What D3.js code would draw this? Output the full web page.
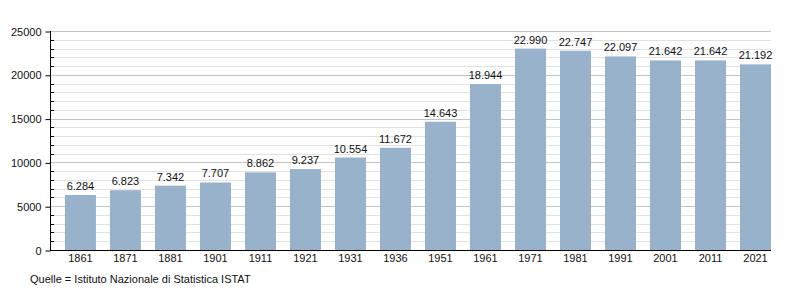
<!DOCTYPE html>
<meta charset="utf-8">
<style>
  body { margin: 0; background: #fff; }
  text { font-family: "Liberation Sans", Arial, sans-serif; }
</style>
<body>
<div id="chart"></div>
<script src="https://d3js.org/d3.v7.min.js"></script>
<script>

var years = ["1861", "1871", "1881", "1901", "1911", "1921", "1931", "1936",
             "1951", "1961", "1971", "1981", "1991", "2001", "2011", "2021"];
var population = [6284, 6823, 7342, 7707, 8862, 9237, 10554, 11672,
                  14643, 18944, 22990, 22747, 22097, 21642, 21642, 21192];
var yTicks = [0, 5000, 10000, 15000, 20000, 25000];
var source = "Quelle = Istituto Nazionale di Statistica ISTAT";

var width = 800,
    height = 300,
    plotLeft = 50,
    plotRight = 771,
    plotTop = 31,
    plotBottom = 250;

var bar_color = '#99b2cb',
    major_grid = '#c4c4c4',
    minor_grid = '#e2e2e2';

var svg = d3.select("#chart").append("svg")
    .attr("width", width)
    .attr("height", height);

var x = d3.scaleBand()
    .domain(years)
    .range([plotLeft, plotRight])
    .paddingInner(0.311)
    .paddingOuter(0.166)
    .align(1);

var y = d3.scaleLinear()
    .domain([0, 25000])
    .range([plotBottom, plotTop]);

var minorTicks = d3.range(0, 25001, 1000).filter(function(d) { return d % 5000 != 0; });

function py(d) { return Math.round(y(d)) + 0.5; }

// grid, minor first then major on top
svg.append("g").selectAll("line")
    .data(minorTicks)
    .join("line")
    .attr("x1", plotLeft).attr("x2", plotRight)
    .attr("y1", py).attr("y2", py)
    .style("stroke", minor_grid);

svg.append("g").selectAll("line")
    .data(yTicks.slice(1))
    .join("line")
    .attr("x1", plotLeft).attr("x2", plotRight)
    .attr("y1", py).attr("y2", py)
    .style("stroke", major_grid);

// bars
svg.append("g").selectAll("rect")
    .data(population)
    .join("rect")
    .attr("x", function(d, i) { return x(years[i]); })
    .attr("width", x.bandwidth())
    .attr("y", function(d) { return y(d); })
    .attr("height", function(d) { return y(0) - y(d); })
    .style("fill", bar_color);

// value labels (italian thousands separator)
svg.append("g").selectAll("text")
    .data(population)
    .join("text")
    .attr("x", function(d, i) { return x(years[i]) + x.bandwidth() / 2; })
    .attr("y", function(d) { return y(d) - 5; })
    .attr("text-anchor", "middle")
    .attr("font-size", "11px")
    .style("fill", "#111")
    .text(function(d) { return d3.format(",")(d).replace(",", "."); });

// y axis: major ticks outward, minor ticks inward
var yAxis = svg.append("g")
    .attr("transform", "translate(" + (plotLeft + 0.5) + ",0.5)")
    .call(d3.axisLeft(y).tickValues(yTicks).tickSize(5).tickPadding(4).tickFormat(d3.format("d")));
yAxis.select(".domain").remove();
yAxis.selectAll("text").attr("font-size", "11px").style("fill", "#111")
    .attr("font-family", '"Liberation Sans", Arial, sans-serif');

svg.append("g").selectAll("line")
    .data(minorTicks)
    .join("line")
    .attr("x1", plotLeft).attr("x2", plotLeft + 4)
    .attr("y1", py).attr("y2", py)
    .style("stroke", "#000");

svg.append("line")
    .attr("x1", plotLeft + 0.5).attr("x2", plotLeft + 0.5)
    .attr("y1", plotTop).attr("y2", plotBottom + 0.5)
    .style("stroke", "#000");

// x axis
var xAxis = svg.append("g")
    .attr("transform", "translate(0," + (plotBottom + 0.5) + ")")
    .call(d3.axisBottom(x).tickSize(0).tickPadding(4));
xAxis.select(".domain").attr("d", "M" + plotLeft + ",0H" + plotRight).style("stroke", "#000");
xAxis.selectAll("text").attr("font-size", "11px").style("fill", "#111")
    .attr("font-family", '"Liberation Sans", Arial, sans-serif');

svg.append("text")
    .attr("x", 30)
    .attr("y", 283)
    .attr("font-size", "11px")
    .style("fill", "#111")
    .text(source);

</script>
</body>
